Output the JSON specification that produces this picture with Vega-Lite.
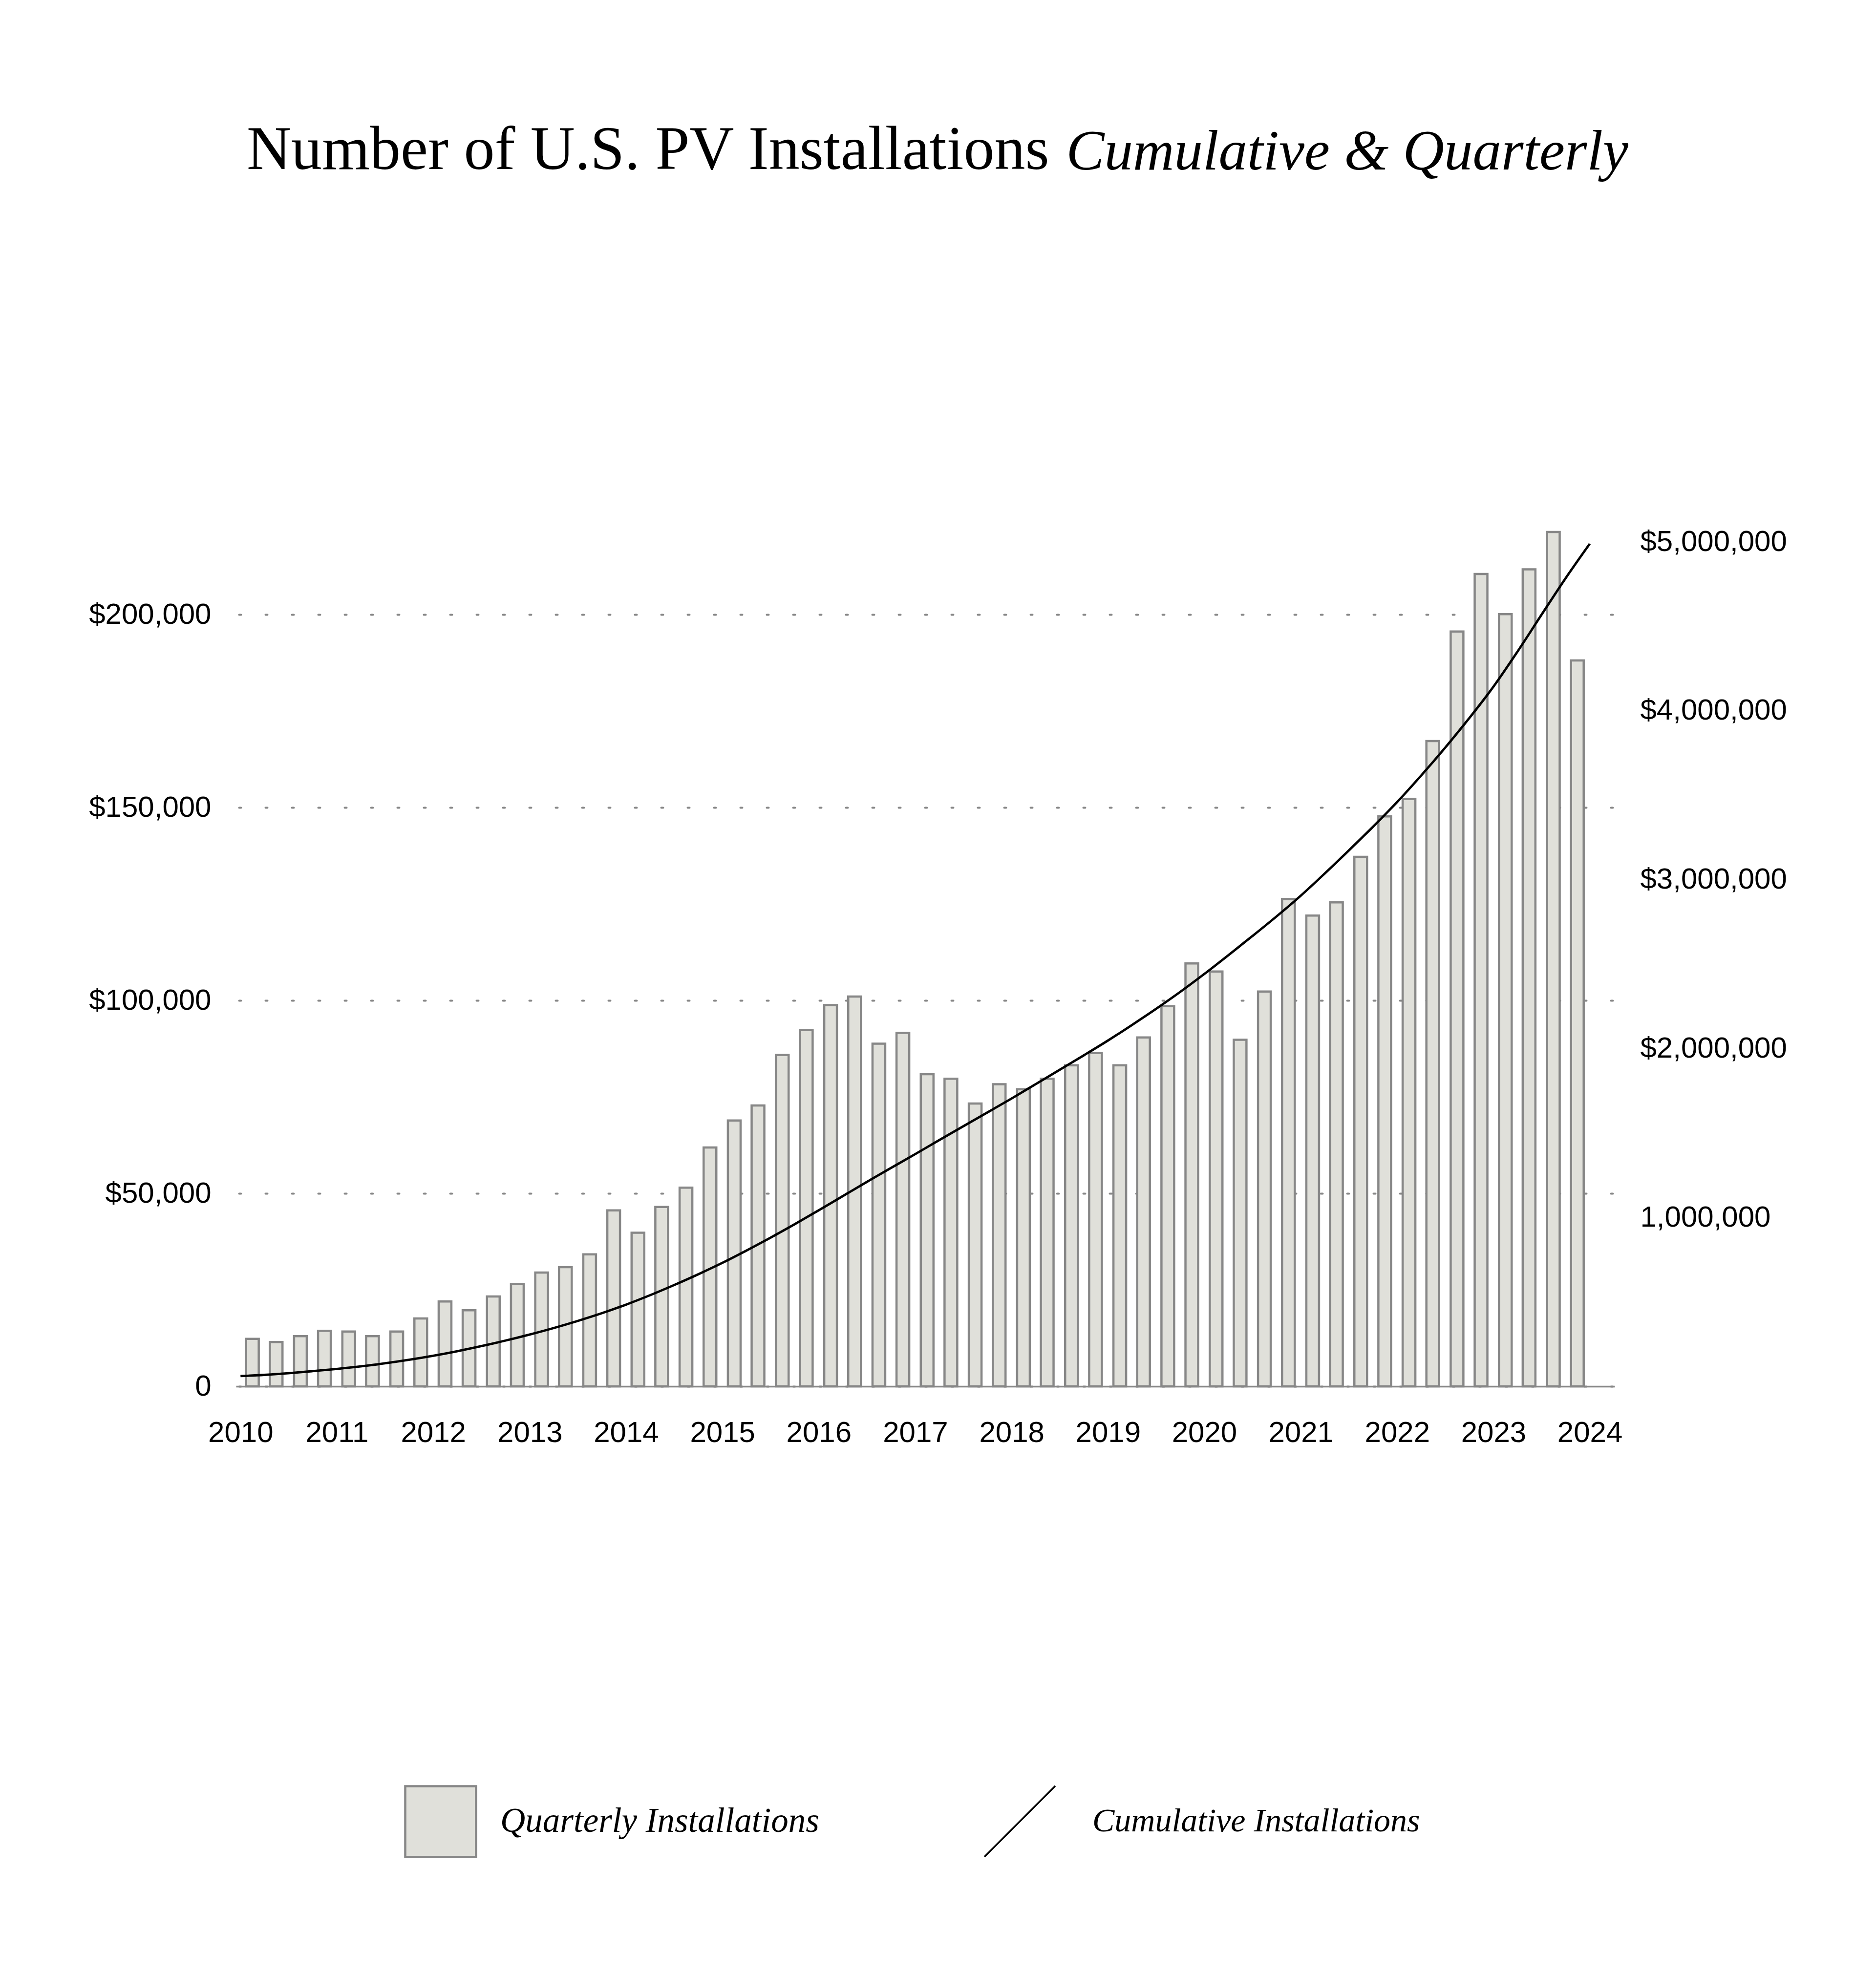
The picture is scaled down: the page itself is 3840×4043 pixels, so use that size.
{
  "$schema": "https://vega.github.io/schema/vega-lite/v6.json",
  "autosize": {"type": "none"},
  "padding": {"left": 483, "top": 1080, "right": 535, "bottom": 1205},
  "width": 2822,
  "height": 1758,
  "background": "#ffffff",
  "title": {
    "text": "Number of U.S. PV Installations",
    "anchor": "start",
    "frame": "group",
    "dx": 22,
    "offset": -120,
    "font": "Liberation Serif",
    "fontSize": 126,
    "fontWeight": "normal",
    "color": "#000000"
  },
  "datasets": {
    "quarterly": [
      {"date": "2010-02-15", "installations": 12300},
      {"date": "2010-05-16", "installations": 11500},
      {"date": "2010-08-16", "installations": 13000},
      {"date": "2010-11-15", "installations": 14400},
      {"date": "2011-02-15", "installations": 14200},
      {"date": "2011-05-16", "installations": 13000},
      {"date": "2011-08-16", "installations": 14200},
      {"date": "2011-11-15", "installations": 17600},
      {"date": "2012-02-15", "installations": 22000},
      {"date": "2012-05-16", "installations": 19700},
      {"date": "2012-08-16", "installations": 23300},
      {"date": "2012-11-15", "installations": 26500},
      {"date": "2013-02-15", "installations": 29500},
      {"date": "2013-05-16", "installations": 30900},
      {"date": "2013-08-16", "installations": 34200},
      {"date": "2013-11-15", "installations": 45600},
      {"date": "2014-02-15", "installations": 39800},
      {"date": "2014-05-16", "installations": 46500},
      {"date": "2014-08-16", "installations": 51500},
      {"date": "2014-11-15", "installations": 61900},
      {"date": "2015-02-15", "installations": 68900},
      {"date": "2015-05-16", "installations": 72800},
      {"date": "2015-08-16", "installations": 85900},
      {"date": "2015-11-15", "installations": 92300},
      {"date": "2016-02-15", "installations": 98800},
      {"date": "2016-05-16", "installations": 101000},
      {"date": "2016-08-16", "installations": 88800},
      {"date": "2016-11-15", "installations": 91600},
      {"date": "2017-02-15", "installations": 80900},
      {"date": "2017-05-16", "installations": 79700},
      {"date": "2017-08-16", "installations": 73300},
      {"date": "2017-11-15", "installations": 78300},
      {"date": "2018-02-15", "installations": 77000},
      {"date": "2018-05-16", "installations": 79700},
      {"date": "2018-08-16", "installations": 83200},
      {"date": "2018-11-15", "installations": 86400},
      {"date": "2019-02-15", "installations": 83200},
      {"date": "2019-05-16", "installations": 90400},
      {"date": "2019-08-16", "installations": 98500},
      {"date": "2019-11-15", "installations": 109600},
      {"date": "2020-02-15", "installations": 107500},
      {"date": "2020-05-16", "installations": 89800},
      {"date": "2020-08-16", "installations": 102300},
      {"date": "2020-11-15", "installations": 126300},
      {"date": "2021-02-15", "installations": 122000},
      {"date": "2021-05-16", "installations": 125400},
      {"date": "2021-08-16", "installations": 137200},
      {"date": "2021-11-15", "installations": 147700},
      {"date": "2022-02-15", "installations": 152200},
      {"date": "2022-05-16", "installations": 167200},
      {"date": "2022-08-16", "installations": 195600},
      {"date": "2022-11-15", "installations": 210500},
      {"date": "2023-02-15", "installations": 200100},
      {"date": "2023-05-16", "installations": 211700},
      {"date": "2023-08-16", "installations": 221400},
      {"date": "2023-11-15", "installations": 188100}
    ],
    "cumulative": [
      {"date": "2010-01-01", "cumulative": 61000},
      {"date": "2010-04-01", "cumulative": 68000},
      {"date": "2010-07-01", "cumulative": 78000},
      {"date": "2010-10-01", "cumulative": 90000},
      {"date": "2011-01-01", "cumulative": 103000},
      {"date": "2011-04-01", "cumulative": 118000},
      {"date": "2011-07-01", "cumulative": 136000},
      {"date": "2011-10-01", "cumulative": 157000},
      {"date": "2012-01-01", "cumulative": 181000},
      {"date": "2012-04-01", "cumulative": 208000},
      {"date": "2012-07-01", "cumulative": 238000},
      {"date": "2012-10-01", "cumulative": 271000},
      {"date": "2013-01-01", "cumulative": 307000},
      {"date": "2013-04-01", "cumulative": 345000},
      {"date": "2013-07-01", "cumulative": 387000},
      {"date": "2013-10-01", "cumulative": 433000},
      {"date": "2014-01-01", "cumulative": 484000},
      {"date": "2014-04-01", "cumulative": 539000},
      {"date": "2014-07-01", "cumulative": 599000},
      {"date": "2014-10-01", "cumulative": 663000},
      {"date": "2015-01-01", "cumulative": 731000},
      {"date": "2015-04-01", "cumulative": 803000},
      {"date": "2015-07-01", "cumulative": 879000},
      {"date": "2015-10-01", "cumulative": 959000},
      {"date": "2016-01-01", "cumulative": 1042000},
      {"date": "2016-04-01", "cumulative": 1126000},
      {"date": "2016-07-01", "cumulative": 1210000},
      {"date": "2016-10-01", "cumulative": 1293000},
      {"date": "2017-01-01", "cumulative": 1375000},
      {"date": "2017-04-01", "cumulative": 1457000},
      {"date": "2017-07-01", "cumulative": 1539000},
      {"date": "2017-10-01", "cumulative": 1621000},
      {"date": "2018-01-01", "cumulative": 1704000},
      {"date": "2018-04-01", "cumulative": 1788000},
      {"date": "2018-07-01", "cumulative": 1873000},
      {"date": "2018-10-01", "cumulative": 1959000},
      {"date": "2019-01-01", "cumulative": 2047000},
      {"date": "2019-04-01", "cumulative": 2138000},
      {"date": "2019-07-01", "cumulative": 2233000},
      {"date": "2019-10-01", "cumulative": 2334000},
      {"date": "2020-01-01", "cumulative": 2441000},
      {"date": "2020-04-01", "cumulative": 2552000},
      {"date": "2020-07-01", "cumulative": 2665000},
      {"date": "2020-10-01", "cumulative": 2782000},
      {"date": "2021-01-01", "cumulative": 2905000},
      {"date": "2021-04-01", "cumulative": 3035000},
      {"date": "2021-07-01", "cumulative": 3171000},
      {"date": "2021-10-01", "cumulative": 3312000},
      {"date": "2022-01-01", "cumulative": 3459000},
      {"date": "2022-04-01", "cumulative": 3614000},
      {"date": "2022-07-01", "cumulative": 3779000},
      {"date": "2022-10-01", "cumulative": 3955000},
      {"date": "2023-01-01", "cumulative": 4142000},
      {"date": "2023-04-01", "cumulative": 4347000},
      {"date": "2023-07-01", "cumulative": 4565000},
      {"date": "2023-10-01", "cumulative": 4783000},
      {"date": "2024-01-01", "cumulative": 4988000}
    ]
  },
  "encoding": {
    "x": {
      "field": "date",
      "type": "temporal",
      "scale": {
        "type": "utc",
        "domain": [
          {"year": 2009, "month": 12, "date": 24, "utc": true},
          {"year": 2024, "month": 3, "date": 26, "utc": true}
        ]
      },
      "axis": {
        "title": null,
        "values": [
          {"year": 2010, "utc": true}, {"year": 2011, "utc": true}, {"year": 2012, "utc": true},
          {"year": 2013, "utc": true}, {"year": 2014, "utc": true}, {"year": 2015, "utc": true},
          {"year": 2016, "utc": true}, {"year": 2017, "utc": true}, {"year": 2018, "utc": true},
          {"year": 2019, "utc": true}, {"year": 2020, "utc": true}, {"year": 2021, "utc": true},
          {"year": 2022, "utc": true}, {"year": 2023, "utc": true}, {"year": 2024, "utc": true}
        ],
        "format": "%Y",
        "domain": true,
        "domainColor": "#888888",
        "domainWidth": 3.5,
        "ticks": false,
        "tickSize": 0,
        "grid": false,
        "labelPadding": 66,
        "labelFont": "Liberation Sans",
        "labelFontSize": 60,
        "labelColor": "#000000",
        "labelFlush": false,
        "labelOverlap": false,
        "labelLimit": 1000
      }
    }
  },
  "layer": [
    {
      "data": {"name": "quarterly"},
      "mark": {"type": "bar", "width": 26, "stroke": "#878787", "strokeWidth": 4.5},
      "encoding": {
        "y": {
          "field": "installations",
          "type": "quantitative",
          "scale": {"domain": [0, 222532], "nice": false, "zero": true},
          "axis": {
            "orient": "left",
            "title": null,
            "values": [0, 50000, 100000, 150000, 200000],
            "labelExpr": "datum.value == 0 ? '0' : '$' + format(datum.value, ',')",
            "domain": false,
            "ticks": false,
            "tickSize": 0,
            "grid": true,
            "gridColor": "#888888",
            "gridWidth": 4,
            "gridDash": [4, 50],
            "gridDashOffset": 48,
            "gridCap": "round",
            "labelPadding": 51,
            "labelFont": "Liberation Sans",
            "labelFontSize": 60,
            "labelColor": "#000000",
            "labelLimit": 1000
          }
        },
        "fill": {
          "datum": "Quarterly Installations",
          "type": "nominal",
          "scale": {"range": ["#e0e0da"]},
          "legend": {
            "orient": "none",
            "legendX": 344,
            "legendY": 2574,
            "title": null,
            "padding": 0,
            "symbolType": "square",
            "symbolSize": 21025,
            "symbolStrokeColor": "#878787",
            "symbolStrokeWidth": 4.5,
            "labelFont": "Liberation Serif",
            "labelFontStyle": "italic",
            "labelFontSize": 71,
            "labelColor": "#000000",
            "labelOffset": 47,
            "labelLimit": 2000
          }
        }
      }
    },
    {
      "data": {"name": "cumulative"},
      "mark": {"type": "line", "strokeWidth": 4.8, "interpolate": "monotone"},
      "encoding": {
        "y": {
          "field": "cumulative",
          "type": "quantitative",
          "scale": {"domain": [0, 5083864], "nice": false, "zero": true},
          "axis": {
            "orient": "right",
            "title": "Cumulative & Quarterly",
            "titleAngle": 0,
            "titleAlign": "left",
            "titleBaseline": "alphabetic",
            "titleX": -1123,
            "titleY": -734,
            "titleFont": "Liberation Serif",
            "titleFontSize": 117,
            "titleFontStyle": "italic",
            "titleFontWeight": "normal",
            "titleColor": "#000000",
            "titleLimit": 3000,
            "values": [1000000, 2000000, 3000000, 4000000, 5000000],
            "labelExpr": "datum.value == 1000000 ? '1,000,000' : '$' + format(datum.value, ',')",
            "domain": false,
            "ticks": false,
            "tickSize": 0,
            "grid": false,
            "labelPadding": 52,
            "labelFont": "Liberation Sans",
            "labelFontSize": 60,
            "labelColor": "#000000",
            "labelLimit": 1000
          }
        },
        "stroke": {
          "datum": "Cumulative Installations",
          "type": "nominal",
          "scale": {"range": ["#000000"]},
          "legend": {
            "orient": "none",
            "legendX": 1530,
            "legendY": 2574,
            "title": null,
            "padding": 0,
            "symbolType": "M-1,1L1,-1",
            "symbolSize": 21025,
            "symbolStrokeColor": "#000000",
            "symbolStrokeWidth": 3.5,
            "labelFont": "Liberation Serif",
            "labelFontStyle": "italic",
            "labelFontSize": 68,
            "labelColor": "#000000",
            "labelOffset": 74,
            "labelLimit": 2000
          }
        }
      }
    }
  ],
  "resolve": {"scale": {"y": "independent"}, "axis": {"y": "independent"}},
  "config": {
    "view": {"stroke": null},
    "font": "Liberation Sans"
  }
}
